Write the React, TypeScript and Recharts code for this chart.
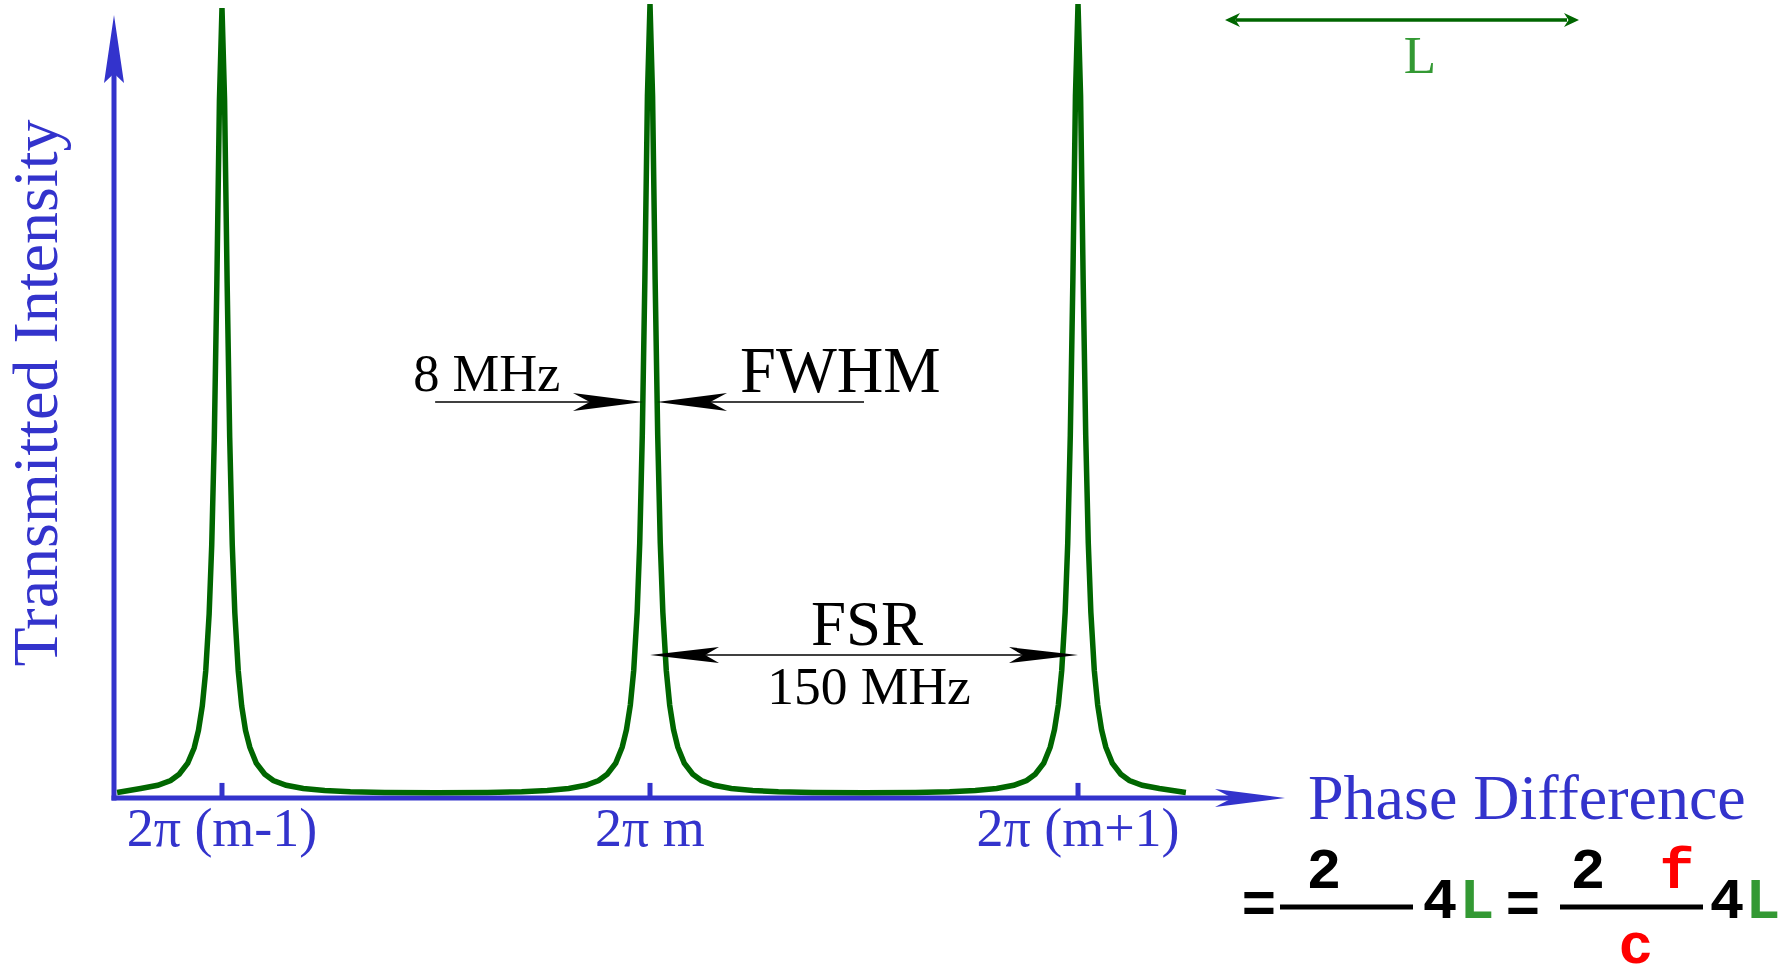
import React from 'react';
import { LineChart, Line, XAxis, YAxis, ReferenceLine } from 'recharts';

// ---------- data (phase in units of 2π relative to order m) ----------
const phase = [
  -1.245, -1.19, -1.15, -1.12, -1.1, -1.08, -1.065, -1.055, -1.046, -1.038, -1.03, -1.024, -1.018, -1.012, -1.006,
  -1.0, -0.994, -0.988, -0.982, -0.976, -0.97, -0.962, -0.954, -0.945, -0.935, -0.92, -0.9, -0.88, -0.85, -0.81,
  -0.76, -0.7, -0.62, -0.5, -0.38, -0.3, -0.24, -0.19, -0.15, -0.12, -0.1, -0.08, -0.065, -0.055, -0.046, -0.038,
  -0.03, -0.024, -0.018, -0.012, -0.006, 0.0, 0.006, 0.012, 0.018, 0.024, 0.03, 0.038, 0.046, 0.055, 0.065, 0.08,
  0.1, 0.12, 0.15, 0.19, 0.24, 0.3, 0.38, 0.5, 0.62, 0.7, 0.76, 0.81, 0.85, 0.88, 0.9, 0.92, 0.935, 0.945, 0.954,
  0.962, 0.97, 0.976, 0.982, 0.988, 0.994, 1.0, 1.006, 1.012, 1.018, 1.024, 1.03, 1.038, 1.046, 1.055, 1.065,
  1.08, 1.1, 1.12, 1.15, 1.19, 1.252,
];
const intensity = [
  0.007, 0.012, 0.016, 0.022, 0.03, 0.044, 0.063, 0.085, 0.116, 0.16, 0.232, 0.318, 0.452, 0.648, 0.878,
  0.995, 0.88, 0.65, 0.454, 0.319, 0.233, 0.16, 0.116, 0.085, 0.064, 0.044, 0.03, 0.022, 0.016, 0.012,
  0.0095, 0.008, 0.007, 0.0065, 0.007, 0.008, 0.0095, 0.012, 0.016, 0.022, 0.03, 0.044, 0.064, 0.086, 0.117, 0.161,
  0.234, 0.321, 0.457, 0.653, 0.884, 1.0, 0.884, 0.653, 0.457, 0.321, 0.234, 0.161, 0.117, 0.086, 0.064, 0.044,
  0.03, 0.022, 0.016, 0.012, 0.0095, 0.008, 0.007, 0.0065, 0.007, 0.008, 0.0095, 0.012, 0.016, 0.022, 0.03, 0.044, 0.064, 0.086, 0.117,
  0.161, 0.234, 0.321, 0.457, 0.653, 0.884, 1.0, 0.884, 0.653, 0.457, 0.321, 0.234, 0.161, 0.117, 0.086, 0.064,
  0.044, 0.03, 0.022, 0.016, 0.012, 0.007,
];
const tickPositions = [-1, 0, 1];
const tickLabels = ['2π (m-1)', '2π m', '2π (m+1)'];
const xDomain = [-1.2523, 1.4836];
const yDomain = [0, 1];
const yAxisTop = 0.986;
const tickHeight = 0.019;
const fwhmLevel = 0.4987;
const fwhmLeft = [-0.502, -0.0164];
const fwhmRight = [0.0164, 0.5];
const fsrLevel = 0.18;
const fsrSpan = [0, 1];
const fwhmText = ['8 MHz', 'FWHM'];
const fsrText = ['FSR', '150 MHz'];
const axisTitles = ['Phase Difference', 'Transmitted Intensity'];

const data = phase.map((x, i) => ({ x, y: intensity[i] }));

const BLUE = '#3333CC';
const DARK_GREEN = '#006600';
const LIGHT_GREEN = '#339933';
const RED = '#FF0000';
const SERIF = '"Liberation Serif", "Times New Roman", serif';
const MONO = '"Liberation Mono", "Courier New", monospace';

function head(tx: number, ty: number, dx: number, dy: number, len: number, half: number, notch: number, fill: string) {
  const bx = tx - dx * len, by = ty - dy * len;
  const nx = tx - dx * len * notch, ny = ty - dy * len * notch;
  const px = -dy, py = dx;
  const pts = [
    [tx, ty],
    [bx + px * half, by + py * half],
    [nx, ny],
    [bx - px * half, by - py * half],
  ];
  return <polygon points={pts.map((p) => p.join(',')).join(' ')} fill={fill} />;
}

const XAxisArrow = (p: any) => {
  const { x1, y1, x2, y2 } = p;
  return (
    <g>
      <line x1={x1 - 2.5} y1={y1} x2={x2 - 45} y2={y2} stroke={BLUE} strokeWidth={5} />
      {head(x2, y2, 1, 0, 70, 9, 0.75, BLUE)}
      <text x={x2 + 23} y={y2 + 21} fontFamily={SERIF} fontSize={64} fill={BLUE}>{axisTitles[0]}</text>
    </g>
  );
};

const YAxisArrow = (p: any) => {
  const { x1, y1, x2, y2 } = p;
  const lx = x1 - 57;
  const ly = y1 - 405;
  return (
    <g>
      <line x1={x1} y1={y1 + 2.5} x2={x2} y2={y2 + 55} stroke={BLUE} strokeWidth={5} />
      {head(x2, y2, 0, -1, 68, 10, 0.86, BLUE)}
      <text x={lx} y={ly} transform={`rotate(-90 ${lx} ${ly})`} textAnchor="middle" fontFamily={SERIF} fontSize={64} fill={BLUE}>
        {axisTitles[1]}
      </text>
    </g>
  );
};

const FwhmLeftArrow = (p: any) => {
  const { x1, y1, x2, y2 } = p;
  return (
    <g>
      <line x1={x1} y1={y1} x2={x2 - 30} y2={y2} stroke="#000" strokeWidth={1.5} />
      {head(x2, y2, 1, 0, 70, 9, 0.76, '#000')}
      <text x={x1 - 22} y={y1 - 11} fontFamily={SERIF} fontSize={52.5} fill="#000">{fwhmText[0]}</text>
    </g>
  );
};

const FwhmRightArrow = (p: any) => {
  const { x1, y1, x2, y2 } = p;
  return (
    <g>
      <line x1={x1 + 30} y1={y1} x2={x2} y2={y2} stroke="#000" strokeWidth={1.5} />
      {head(x1, y1, -1, 0, 70, 9, 0.76, '#000')}
      <text x={x1 + 83} y={y1 - 10} fontFamily={SERIF} fontSize={64.5} fill="#000">{fwhmText[1]}</text>
    </g>
  );
};

const FsrArrow = (p: any) => {
  const { x1, y1, x2, y2 } = p;
  const mid = (x1 + x2) / 2;
  return (
    <g>
      <line x1={x1 + 30} y1={y1} x2={x2 - 30} y2={y2} stroke="#000" strokeWidth={1.5} />
      {head(x1, y1, -1, 0, 69, 8, 0.8, '#000')}
      {head(x2, y2, 1, 0, 69, 8, 0.8, '#000')}
      <text x={mid + 3} y={y1 - 10} textAnchor="middle" fontFamily={SERIF} fontSize={63} fill="#000">{fsrText[0]}</text>
      <text x={mid + 5} y={y1 + 49} textAnchor="middle" fontFamily={SERIF} fontSize={53.5} fill="#000">{fsrText[1]}</text>
    </g>
  );
};

const TickLabel = (props: any) => {
  const { x, y, payload } = props;
  const idx = tickPositions.indexOf(payload.value);
  return (
    <text x={x} y={y + 48} textAnchor="middle" fontFamily={SERIF} fontSize={54} fill={BLUE}>
      {idx >= 0 ? tickLabels[idx] : ''}
    </text>
  );
};

const Overlay = () => (
  <svg width={1791} height={974} style={{ position: 'absolute', left: 0, top: 0, pointerEvents: 'none' }}>
    <line x1={1236} y1={20} x2={1567} y2={20} stroke={DARK_GREEN} strokeWidth={3.5} />
    {head(1225, 20, -1, 0, 15, 7, 0.7, DARK_GREEN)}
    {head(1579, 20, 1, 0, 15, 7, 0.7, DARK_GREEN)}
    <text x={1420} y={73} textAnchor="middle" fontFamily={SERIF} fontSize={53} fill={LIGHT_GREEN}>L</text>
    <g fontFamily={MONO} fontWeight="bold" fontSize={58} textAnchor="middle" fill="#000">
      <text x={1259} y={922}>=</text>
      <line x1={1280} y1={907} x2={1413} y2={907} stroke="#000" strokeWidth={5} />
      <text x={1324} y={888}>2</text>
      <text x={1440} y={918}>4</text>
      <text x={1477} y={918} fill={LIGHT_GREEN}>L</text>
      <text x={1523} y={922}>=</text>
      <line x1={1560} y1={907} x2={1703} y2={907} stroke="#000" strokeWidth={5} />
      <text x={1588} y={888}>2</text>
      <text x={1677} y={888} fill={RED}>f</text>
      <text x={1636} y={963} fill={RED}>c</text>
      <text x={1727} y={918}>4</text>
      <text x={1763} y={918} fill={LIGHT_GREEN}>L</text>
    </g>
  </svg>
);

export default function App() {
  return (
    <div style={{ position: 'absolute', left: 0, top: 0, width: 1791, height: 974, background: '#fff' }}>
      <LineChart width={1791} height={974} data={data} margin={{ top: 4, right: 506, bottom: 146, left: 114 }}>
        <XAxis
          type="number"
          dataKey="x"
          domain={xDomain}
          ticks={tickPositions}
          axisLine={false}
          tickLine={false}
          tickSize={0}
          tickMargin={0}
          height={30}
          tick={<TickLabel />}
          interval={0}
        />
        <YAxis type="number" domain={yDomain} hide />
        <ReferenceLine
          segment={[{ x: xDomain[0], y: 0 }, { x: xDomain[1], y: 0 }]}
          ifOverflow="visible"
          shape={XAxisArrow}
        />
        <ReferenceLine
          segment={[{ x: xDomain[0], y: 0 }, { x: xDomain[0], y: yAxisTop }]}
          ifOverflow="visible"
          shape={YAxisArrow}
        />
        {tickPositions.map((t) => (
          <ReferenceLine
            key={t}
            segment={[{ x: t, y: 0 }, { x: t, y: tickHeight }]}
            ifOverflow="visible"
            stroke={BLUE}
            strokeWidth={5}
          />
        ))}
        <Line
          dataKey="y"
          type="linear"
          stroke={DARK_GREEN}
          strokeWidth={5.5}
          dot={false}
          activeDot={false}
          isAnimationActive={false}
        />
        <ReferenceLine
          segment={[{ x: fwhmLeft[0], y: fwhmLevel }, { x: fwhmLeft[1], y: fwhmLevel }]}
          ifOverflow="visible"
          shape={FwhmLeftArrow}
        />
        <ReferenceLine
          segment={[{ x: fwhmRight[0], y: fwhmLevel }, { x: fwhmRight[1], y: fwhmLevel }]}
          ifOverflow="visible"
          shape={FwhmRightArrow}
        />
        <ReferenceLine
          segment={[{ x: fsrSpan[0], y: fsrLevel }, { x: fsrSpan[1], y: fsrLevel }]}
          ifOverflow="visible"
          shape={FsrArrow}
        />
      </LineChart>
      <Overlay />
    </div>
  );
}
